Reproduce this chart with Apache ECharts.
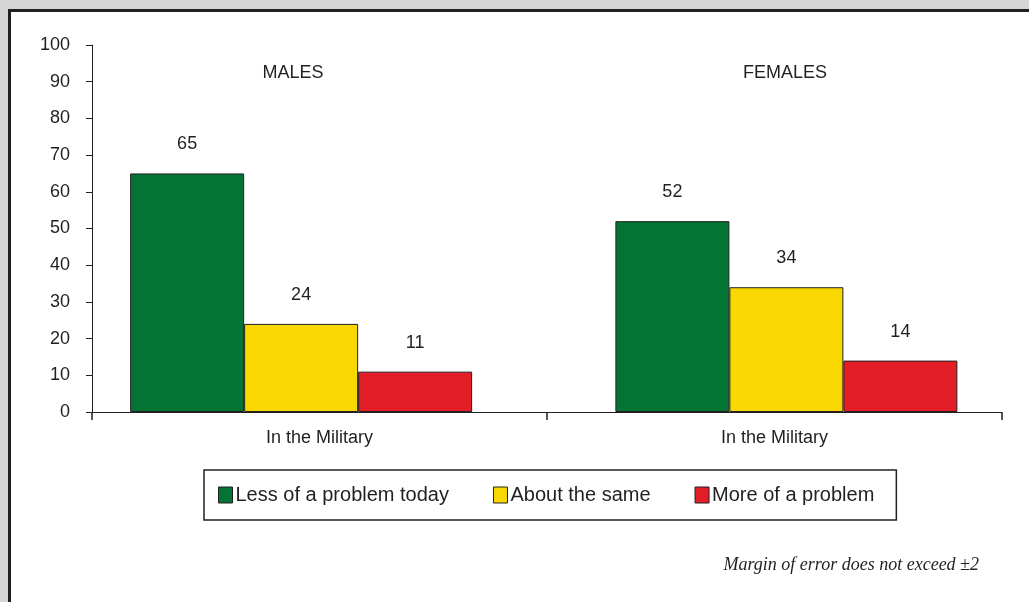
<!DOCTYPE html>
<html>
<head>
<meta charset="utf-8">
<style>
html,body{margin:0;padding:0;background:#d6d6d6;}
#c{width:1029px;height:602px;}
</style>
<script src="https://cdn.jsdelivr.net/npm/echarts@6/dist/echarts.min.js"></script>
</head>
<body>
<div id="c"></div>
<script>
var categories = ['In the Military', 'In the Military'];
var groupTitles = ['MALES', 'FEMALES'];
var seriesNames = ['Less of a problem today', 'About the same', 'More of a problem'];
var lessValues = [65, 52];
var sameValues = [24, 34];
var moreValues = [11, 14];
var yTicks = [0, 10, 20, 30, 40, 50, 60, 70, 80, 90, 100];
var footnote = 'Margin of error does not exceed \u00b12';

var colors = ['#037434', '#f8d800', '#e31e26'];
var ink = '#231f20';
var font = '"Liberation Sans", Arial, Helvetica, sans-serif';

var chart = echarts.init(document.getElementById('c'));
function barSeries(name, data, color) {
  return {
    name: name, type: 'bar', data: data,
    xAxisIndex: 1, yAxisIndex: 1,
    barWidth: 114, barGap: '0%',
    itemStyle: { color: color, borderColor: ink, borderWidth: 1 },
    label: { show: true, position: 'top', distance: 20, color: ink, fontSize: 18, fontFamily: font },
    emphasis: { disabled: true }
  };
}
chart.setOption({
  backgroundColor: '#d6d6d6',
  animation: false,
  graphic: [
    { type: 'rect', z: -10, shape: { x: 9.5, y: 10.5, width: 1100, height: 700 },
      style: { fill: '#ffffff', stroke: ink, lineWidth: 3 } },
    { type: 'text', z: 10, x: 979, y: 565,
      style: { text: footnote, fill: ink, font: 'italic 18px "Liberation Serif", "Times New Roman", serif',
        textAlign: 'right', textVerticalAlign: 'middle' } }
  ],
  title: [
    { text: groupTitles[0], left: 293, top: 64, textAlign: 'center', padding: 0,
      textStyle: { color: ink, fontSize: 18, fontWeight: 'normal', fontFamily: font } },
    { text: groupTitles[1], left: 785, top: 64, textAlign: 'center', padding: 0,
      textStyle: { color: ink, fontSize: 18, fontWeight: 'normal', fontFamily: font } }
  ],
  legend: {
    data: seriesNames, left: 204, top: 470,
    padding: [15, 22, 15, 14],
    itemGap: 44, itemWidth: 14, itemHeight: 16,
    borderColor: ink, borderWidth: 1.5, borderRadius: 0,
    backgroundColor: '#ffffff',
    textStyle: { color: ink, fontSize: 20, fontFamily: font, padding: [0, 0, 0, -2] },
    itemStyle: { borderColor: ink, borderWidth: 1 },
    icon: 'rect', selectedMode: false
  },
  grid: [
    { left: 92, right: 27, top: 45, bottom: 190, containLabel: false },
    { left: 58.5, right: -1.5, top: 45, bottom: 190, containLabel: false }
  ],
  xAxis: [
    { type: 'category', gridIndex: 0, data: categories, boundaryGap: true,
      axisLine: { show: true, lineStyle: { color: ink, width: 1 } },
      axisTick: { show: true, alignWithLabel: false, interval: 0, length: 8, lineStyle: { color: ink, width: 1.5 } },
      axisLabel: { color: ink, fontSize: 18, fontFamily: font, margin: 17 } },
    { type: 'category', gridIndex: 1, data: categories, show: false }
  ],
  yAxis: [
    { type: 'value', gridIndex: 0, min: yTicks[0], max: yTicks[yTicks.length - 1], interval: 10,
      axisLine: { show: true, lineStyle: { color: ink, width: 1 } },
      axisTick: { show: true, length: 6, lineStyle: { color: ink } },
      splitLine: { show: false },
      axisLabel: { color: ink, fontSize: 18, fontFamily: font, margin: 22 } },
    { type: 'value', gridIndex: 1, min: 0, max: 100, show: false, splitLine: { show: false } }
  ],
  series: [
    barSeries(seriesNames[0], lessValues, colors[0]),
    barSeries(seriesNames[1], sameValues, colors[1]),
    barSeries(seriesNames[2], moreValues, colors[2])
  ]
});
</script>
</body>
</html>
